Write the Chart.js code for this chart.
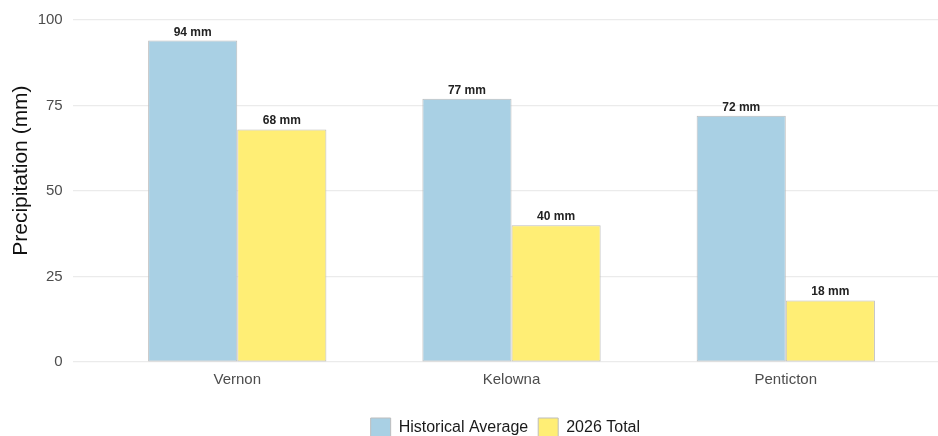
<!DOCTYPE html>
<html>
<head>
<meta charset="utf-8">
<title>Precipitation</title>
<script src="https://cdn.jsdelivr.net/npm/chart.js@4.4.1/dist/chart.umd.min.js"></script>
<style>
  html, body { margin: 0; padding: 0; background: #fff; overflow: hidden; }
  #wrap { width: 938px; height: 448px; position: relative; }
</style>
</head>
<body>
<div id="wrap"><canvas id="rain"></canvas></div>
<script>
// values
var cities = ["Vernon", "Kelowna", "Penticton"];
var historical = [94, 77, 72];
var total2026 = [68, 40, 18];
var yTicks = [0, 25, 50, 75, 100];

function points(vals) {
  return vals.map(function (v, i) { return { x: i + 1, y: v }; });
}

// "94 mm" labels on top of each bar
var barLabels = {
  id: 'barLabels',
  afterDatasetsDraw: function (chart) {
    var ctx = chart.ctx;
    ctx.save();
    ctx.font = 'bold 12px "Liberation Sans", Arial, sans-serif';
    ctx.fillStyle = '#222';
    ctx.textAlign = 'center';
    ctx.textBaseline = 'alphabetic';
    chart.data.datasets.forEach(function (ds, di) {
      chart.getDatasetMeta(di).data.forEach(function (bar, i) {
        ctx.fillText(ds.data[i].y + ' mm', bar.x, bar.y - 5);
      });
    });
    ctx.restore();
  }
};

Chart.defaults.font.family = '"Liberation Sans", Arial, sans-serif';

new Chart(document.getElementById('rain'), {
  type: 'bar',
  data: {
    datasets: [{
      label: 'Historical Average',
      data: points(historical),
      backgroundColor: '#a9d0e4',
      borderColor: '#bdbdbd',
      borderWidth: 1,
      borderSkipped: false
    }, {
      label: '2026 Total',
      data: points(total2026),
      backgroundColor: '#ffee75',
      borderColor: '#bdbdbd',
      borderWidth: 1,
      borderSkipped: false
    }]
  },
  options: {
    responsive: true,
    maintainAspectRatio: false,
    animation: false,
    categoryPercentage: 0.65,
    barPercentage: 1.0,
    layout: { padding: { top: 20, right: 0, left: 0, bottom: 0 } },
    plugins: {
      tooltip: { enabled: false },
      legend: {
        position: 'bottom',
        fullSize: false,
        labels: {
          boxWidth: 20,
          boxHeight: 20,
          padding: 10,
          color: '#1a1a1a',
          font: { size: 16 }
        }
      }
    },
    scales: {
      x: {
        type: 'linear',
        offset: false,
        min: 0.4,
        max: 3.555,
        grid: { display: false, drawTicks: false, offset: false },
        border: { display: false },
        afterBuildTicks: function (scale) {
          scale.ticks = cities.map(function (c, i) { return { value: i + 1 }; });
        },
        afterFit: function (scale) { scale.height = 46; },
        ticks: {
          padding: 9,
          color: '#4d4d4d',
          font: { size: 15 },
          maxRotation: 0,
          callback: function (v) { return cities[v - 1]; }
        }
      },
      y: {
        min: 0,
        max: 100,
        grid: { color: '#ebebeb', lineWidth: 1.2, drawTicks: false },
        border: { display: false },
        afterBuildTicks: function (scale) {
          scale.ticks = yTicks.map(function (v) { return { value: v }; });
        },
        afterFit: function (scale) { scale.width = 72.7; },
        ticks: {
          padding: 10,
          color: '#4d4d4d',
          font: { size: 15 }
        },
        title: {
          display: true,
          // leading spaces nudge the title up, as in the reference
          text: '       Precipitation (mm)',
          color: '#111',
          font: { size: 21 },
          padding: { top: 9, bottom: 0 }
        }
      }
    }
  },
  plugins: [barLabels]
});
</script>
</body>
</html>
